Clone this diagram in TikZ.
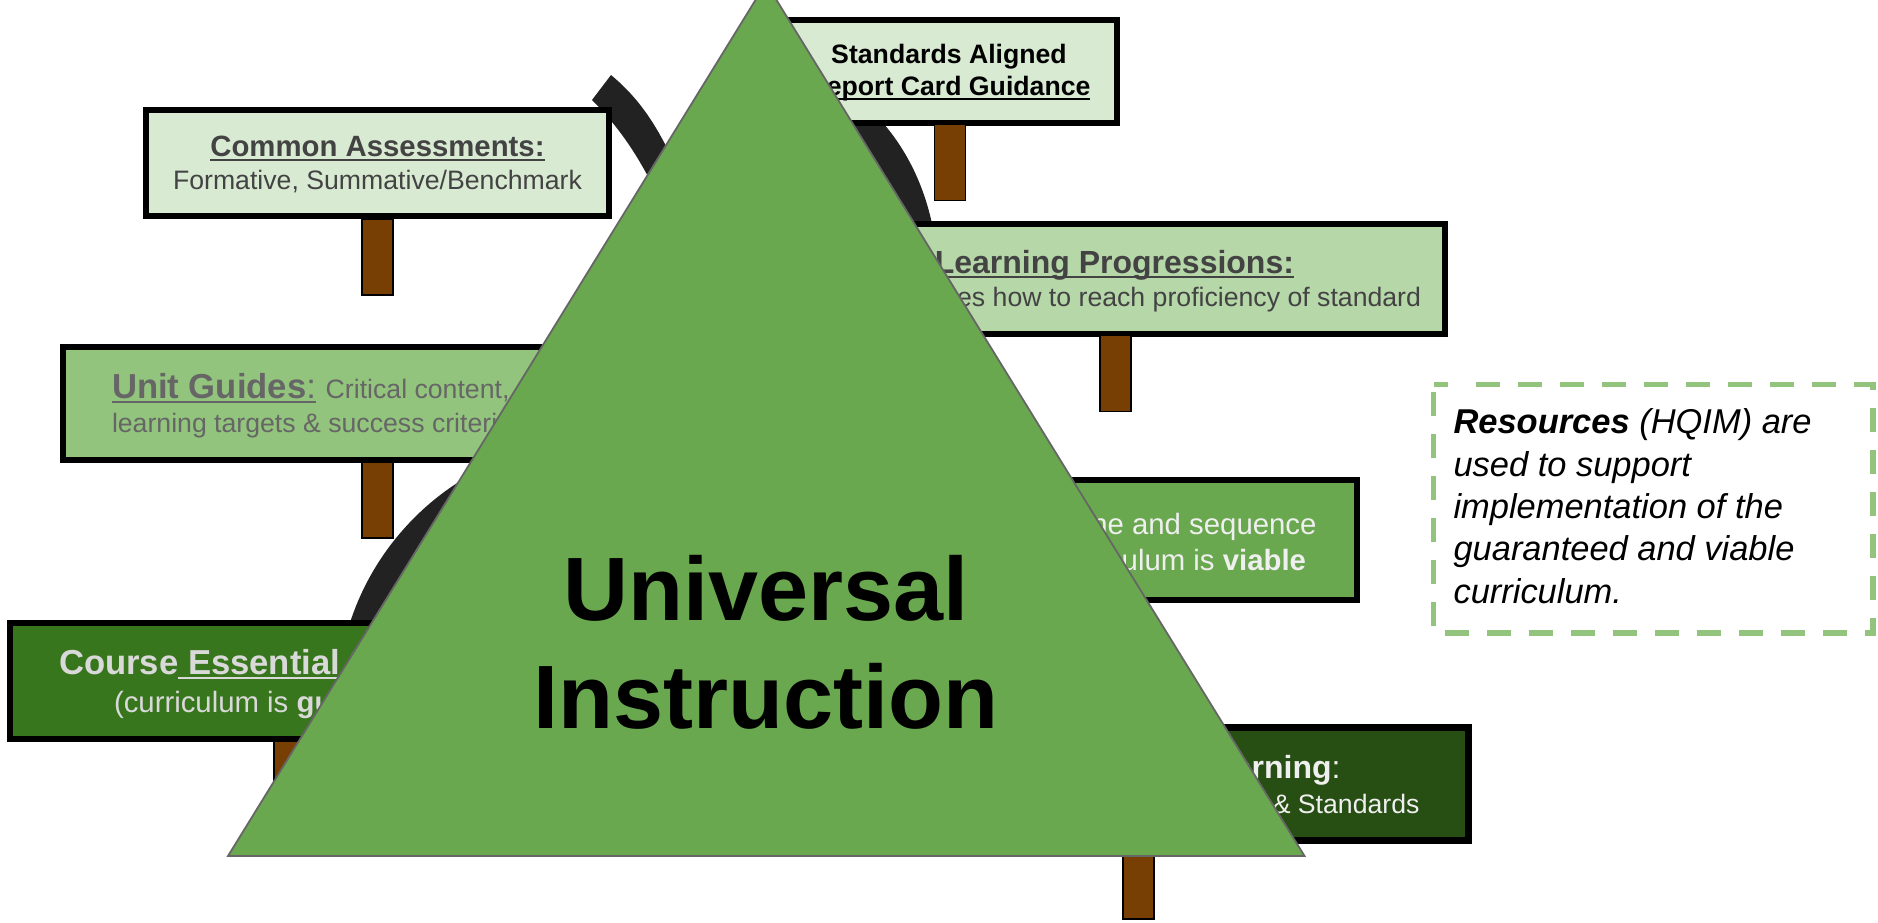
\documentclass[tikz,border=0pt]{standalone}
\usepackage{fontspec}
\setmainfont{Liberation Sans}
\newsavebox{\ulbox}
\newcommand{\uline}[1]{\sbox{\ulbox}{#1}\usebox{\ulbox}\llap{\rule[-2.7pt]{\wd\ulbox}{1pt}}}
\definecolor{gA}{HTML}{D9EAD3}
\definecolor{gB}{HTML}{B6D7A8}
\definecolor{gC}{HTML}{93C47D}
\definecolor{gD}{HTML}{6AA84F}
\definecolor{gE}{HTML}{38761D}
\definecolor{gF}{HTML}{274E13}
\definecolor{wood}{HTML}{783F04}
\definecolor{tA}{HTML}{434343}
\definecolor{tB}{HTML}{666666}
\definecolor{tC}{HTML}{D9D9D9}
\definecolor{tD}{HTML}{EFEFEF}
\definecolor{bandcol}{HTML}{222222}
\definecolor{edgecol}{HTML}{666666}
\newcommand{\szA}{\fontsize{13.33}{16}\selectfont}
\newcommand{\szB}{\fontsize{14.67}{17}\selectfont}
\newcommand{\szC}{\fontsize{16}{19}\selectfont}
\newcommand{\szD}{\fontsize{17.33}{21}\selectfont}
\newcommand{\szE}{\fontsize{17.33}{21}\selectfont}
\tikzset{
  signboard/.style={draw=black,line width=3pt,inner sep=0pt,outer sep=0pt},
  signpost/.style={draw=black,line width=.8pt,fill=wood,inner sep=0pt,outer sep=0pt,minimum width=15.5pt,minimum height=38pt},
  textlabel/.style={inner sep=0pt,outer sep=0pt},
  darkband/.style={fill=bandcol},
  noteline/.style={draw=gC,line width=2.8pt,dash pattern=on 12pt off 9pt},
}
\begin{document}
\begin{tikzpicture}[x=0.5pt,y=-0.5pt]
\useasboundingbox (0,0) rectangle (1878,922);
% dark bands behind the boards
\fill[darkband] (611,75) .. controls (635,95) and (655,120) .. (675,165) -- (655,190) .. controls (640,160) and (622,130) .. (592,100) -- cycle;
\fill[darkband] (860,100) .. controls (895,130) and (925,175) .. (935,240) -- (800,240) -- (800,100) -- cycle;
\fill[darkband] (480,470) .. controls (420,500) and (365,560) .. (345,640) -- (480,640) -- cycle;
% boards
\node[signboard,fill=gA,minimum width=231.5pt,minimum height=53pt] (common) at (377.5,163) {};
\node[signboard,fill=gC,minimum width=314.5pt,minimum height=56.5pt] (unit) at (377.5,403.5) {};
\node[signboard,fill=gE,minimum width=279.5pt,minimum height=58pt] (course) at (289.5,681) {};
\node[signboard,fill=gA,minimum width=167pt,minimum height=51.5pt] (report) at (950,71.5) {};
\node[signboard,fill=gB,minimum width=330pt,minimum height=55pt] (progress) at (1115,279) {};
\node[signboard,fill=gD,minimum width=227pt,minimum height=60pt] (pacing) at (1130,540) {};
\node[signboard,fill=gF,line width=3.5pt,minimum width=332.5pt,minimum height=56.5pt] (learning) at (1136,784) {};
% posts
\node[signpost] (commonpost) at (377.5,257) {};
\node[signpost] (unitpost) at (377.5,500) {};
\node[signpost] (coursepost) at (289.5,779) {};
\node[signpost] (reportpost) at (950,162.5) {};
\node[signpost] (progresspost) at (1115.5,373.5) {};
\node[signpost] (learningpost) at (1138.5,881) {};
% board texts
\node[textlabel,anchor=base,text=tA,font=\szB\bfseries] (t1) at (377.5,156) {\uline{Common Assessments:}};
\node[textlabel,anchor=base,text=tA,font=\szA] (t2) at (377.5,189) {Formative, Summative/Benchmark};
\node[textlabel,anchor=base west,text=tB] (t3) at (112,398) {\szE\uline{\bfseries Unit Guides{\mdseries :}} \szA Critical content,};
\node[textlabel,anchor=base west,text=tB,font=\szA] (t4) at (112,432) {learning targets \& success criteria};
\node[textlabel,anchor=base west,text=tC,font=\szD\bfseries] (t5) at (59,674) {Course\uline{~Essential} Standards};
\node[textlabel,anchor=base west,text=tC,font=\szB] (t6) at (114,712) {(curriculum is \textbf{guaranteed)}};
\node[textlabel,anchor=base,text=black,font=\szA\bfseries] (t7) at (949,63) {Standards Aligned};
\node[textlabel,anchor=base,text=black,font=\szA\bfseries] (t8) at (949,95) {\uline{Report Card Guidance}};
\node[textlabel,anchor=base east,text=tA,font=\szC\bfseries] (t9) at (1294,273) {\uline{Learning Progressions:}};
\node[textlabel,anchor=base east,text=tA,font=\szA] (t10) at (1421,306) {Describes how to reach proficiency of standard};
\node[textlabel,anchor=base east,text=tD,font=\szB] (t11) at (1316.5,534) {Timeline and sequence};
\node[textlabel,anchor=base east,text=tD,font=\szB] (t12) at (1306,570) {curriculum is \textbf{viable}};
\node[textlabel,anchor=base east,text=tD,font=\szC] (t13) at (1340.5,778) {\textbf{Learning}:};
\node[textlabel,anchor=base east,text=tD,font=\szA] (t14) at (1419.5,813) {\& Standards};
% tree
\fill[gD,draw=edgecol,line width=.9pt,line join=miter] (766,-17) -- (1304.5,856) -- (228,856) -- cycle;
\node[textlabel,anchor=base,text=black,font=\fontsize{45}{50}\selectfont\bfseries] (uni) at (766,620) {Universal};
\node[textlabel,anchor=base,text=black,font=\fontsize{45}{50}\selectfont\bfseries] (ins) at (766,728) {Instruction};
% resources note
\draw[noteline] (1476,384.5) -- (1873,384.5) -- (1873,633) -- (1433.5,633) -- (1433.5,392);
\draw[noteline] (1433.5,384.5) -- (1448,384.5);
\node[textlabel,anchor=base west,align=left,font=\fontsize{17.23}{21.15}\selectfont\itshape] (res) at (1453.5,603) {\textbf{Resources} (HQIM) are\\used to support\\implementation of the\\guaranteed and viable\\curriculum.};
\end{tikzpicture}
\end{document}
